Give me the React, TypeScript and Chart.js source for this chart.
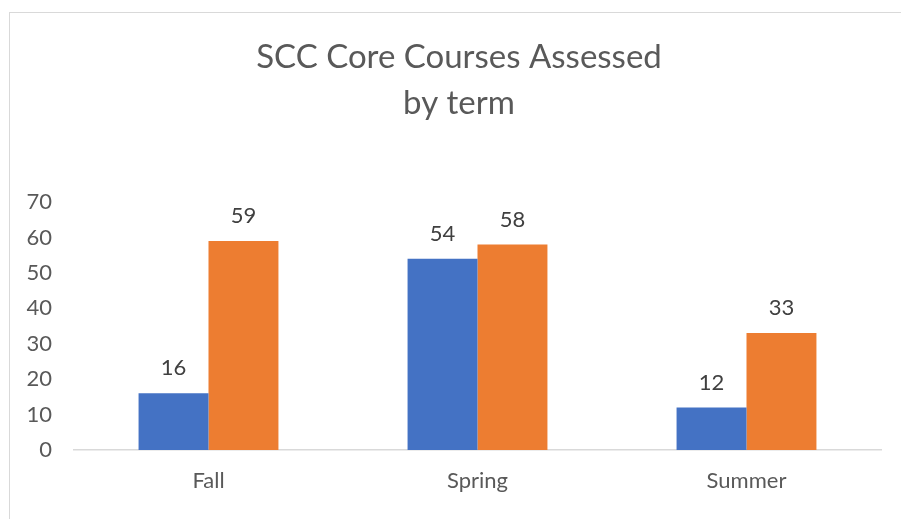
import React, { useEffect, useRef } from "react";
import { Chart, registerables } from "chart.js";

Chart.register(...registerables);

const categories = ["Fall", "Spring", "Summer"];
const seriesA = [16, 54, 12];
const seriesB = [59, 58, 33];
const seriesNames = ["Series 1", "Series 2"];
const titleLines = ["SCC Core Courses Assessed", "by term"];
const yMin = 0;
const yMax = 70;
const yStep = 10;

const FONT = "Lato, 'Open Sans', sans-serif";

const dataLabelPlugin = {
  id: "dataLabels",
  afterLayout(chart: any) {
    const t = chart.titleBlock;
    if (t) {
      t.left = 37;
    }
  },
  afterDatasetsDraw(chart: any) {
    const ctx = chart.ctx;
    ctx.save();
    ctx.font = `22px ${FONT}`;
    ctx.fillStyle = "#404040";
    ctx.textAlign = "center";
    ctx.textBaseline = "middle";
    chart.data.datasets.forEach((ds: any, i: number) => {
      const meta = chart.getDatasetMeta(i);
      meta.data.forEach((bar: any, j: number) => {
        ctx.fillText(String(ds.data[j]), bar.x, bar.y - 25);
      });
    });
    ctx.restore();
  },
};

export default function App() {
  const ref = useRef<HTMLCanvasElement | null>(null);
  useEffect(() => {
    if (!ref.current) return;
    const chart = new Chart(ref.current, {
      type: "bar",
      data: {
        labels: categories,
        datasets: [
          { label: seriesNames[0], data: seriesA, backgroundColor: "#4472C4" },
          { label: seriesNames[1], data: seriesB, backgroundColor: "#ED7D31" },
        ],
      },
      options: {
        responsive: false,
        animation: false,
        layout: { padding: { left: 0, right: 20, top: 0, bottom: 0 } },
        datasets: {
          bar: { categoryPercentage: 0.52, barPercentage: 1 },
        },
        plugins: {
          legend: { display: false },
          tooltip: { enabled: false },
          title: {
            display: true,
            text: titleLines,
            color: "#595959",
            font: { family: FONT, size: 33, weight: "normal", lineHeight: 46 / 33 },
            padding: { top: 34, bottom: 76 },
          },
        },
        scales: {
          x: {
            grid: { display: false, drawTicks: false },
            border: { display: true, color: "#D9D9D9", width: 1.5 },
            ticks: { color: "#595959", font: { family: FONT, size: 22 }, padding: 18 },
            afterFit(scale: any) {
              scale.height = 69;
            },
          },
          y: {
            min: yMin,
            max: yMax,
            grid: { display: false, drawTicks: false },
            border: { display: false },
            ticks: { stepSize: yStep, color: "#595959", font: { family: FONT, size: 22 }, padding: 22 },
            afterFit(scale: any) {
              scale.width = 74;
            },
          },
        },
      },
      plugins: [dataLabelPlugin],
    });
    return () => chart.destroy();
  }, []);
  return (
    <div style={{ position: "fixed", left: 0, top: 0, width: 901, height: 519, background: "#fff", overflow: "hidden" }}>
      <div
        style={{
          position: "absolute",
          left: 9,
          top: 12,
          width: 1000,
          height: 1000,
          borderLeft: "1.5px solid #D9D9D9",
          borderTop: "1.5px solid #D9D9D9",
        }}
      />
      <canvas ref={ref} width={901} height={519} style={{ position: "absolute", left: 0, top: 0 }} />
    </div>
  );
}
